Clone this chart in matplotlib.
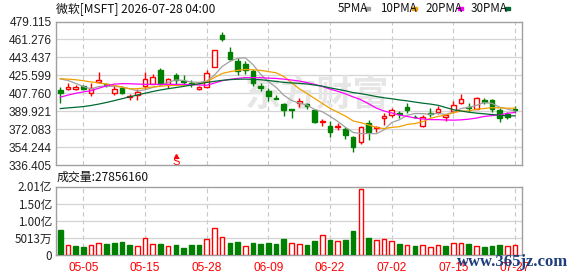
import matplotlib
matplotlib.use('Agg')
import matplotlib.pyplot as plt
import numpy as np

# ---------------- data ----------------
date_ticks = [3, 11, 19, 27, 35, 43, 51, 59]
date_labels = ['05-05', '05-15', '05-28', '06-09', '06-22', '07-02', '07-15', '07-27']

opens = [410.6, 412.3, 411.5, 414.9, 408.4, 419.2, 417.2, 408.4, 412.6, 403.7,
         406.0, 414.9, 417.2, 430.4, 416.6, 425.8, 420.0, 417.8, 412.3, 413.9,
         434.0, 465.9, 448.5, 439.6, 436.9, 429.7, 414.6, 410.0, 403.4, 396.8,
         392.4, 398.1, 396.8, 390.9, 378.7, 375.5, 373.8, 372.1, 363.9, 359.0,
         377.7, 373.1, 382.7, 386.2, 387.9, 394.5, 384.6, 374.8, 388.1, 389.6,
         384.6, 390.2, 398.5, 394.1, 392.5, 400.7, 400.7, 390.9, 386.9, 392.0]
highs = [414.3, 417.5, 416.3, 415.9, 418.3, 428.7, 417.8, 414.9, 414.9, 407.4,
         411.6, 428.7, 426.5, 433.1, 423.2, 428.1, 425.5, 420.5, 414.9, 430.4,
         451.1, 468.6, 454.1, 442.9, 439.6, 431.4, 418.2, 413.3, 405.7, 398.5,
         392.4, 402.7, 398.1, 391.8, 382.0, 380.0, 378.0, 374.4, 365.5, 375.5,
         381.0, 375.5, 388.6, 392.8, 390.2, 398.5, 386.0, 385.9, 392.8, 395.1,
         387.6, 400.1, 406.7, 398.5, 404.0, 402.7, 401.7, 392.8, 389.6, 395.1]
lows = [398.5, 410.6, 410.6, 410.9, 405.0, 417.6, 414.0, 406.4, 407.4, 401.0,
        401.0, 411.6, 416.5, 416.5, 412.6, 417.2, 415.6, 413.9, 411.3, 413.3,
        434.0, 459.3, 441.3, 426.4, 427.4, 414.6, 410.0, 400.1, 402.1, 385.2,
        383.6, 394.1, 392.1, 378.0, 374.8, 364.0, 371.4, 362.2, 349.7, 357.3,
        361.2, 368.8, 376.3, 384.6, 382.7, 388.5, 383.0, 373.8, 383.7, 387.6,
        379.7, 388.6, 397.5, 389.6, 391.8, 397.5, 389.6, 378.7, 381.9, 388.6]
closes = [407.7, 414.3, 413.6, 411.6, 412.6, 420.5, 415.8, 412.3, 408.0, 405.0,
          409.3, 421.5, 423.8, 417.2, 421.5, 420.8, 419.2, 416.5, 414.3, 428.1,
          451.1, 461.7, 441.9, 429.7, 430.4, 417.6, 413.3, 405.0, 402.1, 390.9,
          391.5, 400.4, 395.5, 379.5, 380.0, 368.8, 375.1, 366.1, 354.0, 373.8,
          369.4, 374.4, 385.2, 390.9, 386.9, 391.5, 383.7, 384.6, 387.2, 391.9,
          385.9, 396.1, 401.7, 392.8, 402.7, 399.4, 391.8, 382.7, 383.7, 391.2]

ma5 = [422.0, 420.5, 417.5, 414.5, 412.0, 414.5, 414.8, 414.6, 413.8, 412.3,
       410.1, 411.2, 413.5, 415.4, 418.7, 421.0, 420.5, 419.0, 418.5, 419.8,
       425.8, 434.3, 439.4, 442.5, 443.0, 436.3, 426.6, 419.2, 413.7, 405.8,
       400.6, 398.0, 396.1, 391.6, 389.4, 384.8, 379.8, 373.9, 368.8, 367.6,
       367.7, 367.5, 371.4, 378.7, 381.4, 385.8, 387.6, 387.5, 386.8, 387.8,
       386.7, 389.1, 392.6, 393.7, 395.8, 398.5, 397.7, 393.9, 392.1, 389.8]
ma10 = [422.2, 421.8, 421.2, 420.2, 419.0, 418.0, 416.8, 415.5, 414.0, 412.1,
        412.3, 413.0, 414.0, 414.6, 415.5, 415.5, 415.9, 416.3, 416.9, 419.2,
        423.4, 427.4, 429.2, 430.5, 431.4, 431.1, 430.5, 429.3, 428.1, 424.4,
        418.4, 412.3, 407.6, 402.6, 397.6, 392.7, 388.9, 385.0, 380.2, 378.5,
        376.3, 373.7, 372.6, 373.8, 374.5, 376.7, 377.6, 379.4, 382.8, 384.6,
        386.2, 388.4, 390.0, 390.2, 391.8, 392.6, 393.4, 393.2, 392.9, 392.8]
ma20 = [403.9, 405.9, 407.7, 409.1, 410.3, 412.8, 415.1, 416.8, 417.3, 417.2,
        416.9, 416.6, 416.6, 416.6, 416.6, 416.6, 416.6, 416.3, 416.0, 415.7,
        417.9, 420.2, 421.6, 422.5, 423.4, 423.3, 423.2, 422.8, 422.5, 421.8,
        420.9, 419.9, 418.4, 416.6, 414.5, 411.9, 409.7, 407.2, 404.1, 401.4,
        397.3, 393.0, 390.1, 388.2, 386.0, 384.7, 383.2, 382.2, 381.5, 381.5,
        381.2, 381.0, 381.3, 382.0, 383.1, 384.7, 385.5, 386.3, 387.8, 388.7]
ma30 = [392.5, 393.2, 393.8, 394.5, 395.6, 397.0, 398.6, 400.4, 402.3, 404.2,
        406.0, 407.8, 409.5, 411.0, 412.3, 413.4, 414.6, 415.9, 417.2, 418.5,
        419.6, 420.6, 421.3, 421.7, 421.8, 421.6, 421.2, 420.4, 419.5, 418.6,
        418.0, 417.6, 417.0, 415.9, 414.8, 413.1, 411.7, 410.2, 408.4, 407.4,
        406.0, 404.5, 403.2, 402.3, 401.1, 400.2, 399.0, 397.9, 397.0, 395.8,
        393.6, 391.4, 390.1, 388.9, 388.0, 387.3, 386.6, 385.9, 385.3, 385.3]

# volume in millions of shares
volumes = [72, 29, 27, 24, 29, 35, 33, 36, 39, 30,
           27, 50, 32, 33, 27, 30, 21, 30, 30, 47,
           80, 53, 36, 39, 27, 36, 33, 36, 33, 48,
           35, 33, 30, 42, 59, 45, 42, 45, 69, 192,
           51, 44, 47, 41, 33, 29, 27, 29, 24, 29,
           27, 35, 35, 33, 27, 24, 27, 30, 27, 27.86]
# volume colour: 1 = close above previous close (red), 0 = below (green)
vol_up = [0, 1, 0, 0, 1, 1, 0, 0, 0, 0,
          1, 1, 1, 0, 1, 0, 0, 0, 0, 1,
          1, 1, 0, 0, 1, 0, 0, 0, 0, 0,
          1, 1, 0, 0, 1, 0, 1, 0, 0, 1,
          0, 1, 1, 1, 0, 1, 0, 1, 1, 1,
          0, 1, 1, 0, 1, 0, 0, 0, 1, 1]

price_ticks = [336.405, 354.244, 372.083, 389.921, 407.760, 425.599, 443.437, 461.276, 479.115]
price_labels = ['336.405', '354.244', '372.083', '389.921', '407.760', '425.599', '443.437', '461.276', '479.115']
vol_ticks = [0, 50.13, 100.26, 150.39, 200.52]
vol_labels = ['0', '5013万', '1.00亿', '1.50亿', '2.01亿']

split_bar = 15
title = '微软[MSFT] 2026-07-28 04:00'
vol_title = '成交量:27856160'
ma_names = ['5PMA', '10PMA', '20PMA', '30PMA']

# ---------------- style ----------------
RED = '#ff0000'
GREEN = '#008000'
MA_COLORS = ['#a0a0a0', '#f0a000', '#ff00ff', '#006a32']
FRAME = '#a0a0a0'
GRID = '#d4d4d4'
CJK = ['Noto Sans CJK SC', 'DejaVu Sans']
LAT = ['Liberation Sans', 'DejaVu Sans']

W, H = 578, 276
fig = plt.figure(figsize=(W / 100, H / 100), dpi=100)

def fx(px):
    return px / W

def fy(py):
    return 1 - py / H

ax = fig.add_axes([fx(56), fy(165), fx(522) - fx(56), fy(21.5) - fy(165)])
axv = fig.add_axes([fx(56), fy(255), fx(522) - fx(56), fy(186.5) - fy(255)])

n = len(closes)
x = np.arange(n)
o = np.array(opens); c = np.array(closes); hi = np.array(highs); lo = np.array(lows)
up = c >= o
cols = np.where(up, RED, GREEN)

for a in (ax, axv):
    a.set_xlim(-0.55, 59.9)
    for s in a.spines.values():
        s.set_color(FRAME)
        s.set_linewidth(1.0)
    a.tick_params(length=0, pad=3)
    for t in date_ticks:
        a.axvline(t, color='#c8c8c8', lw=0.8, ls=(0, (4, 3)), zorder=0)

# watermark in price panel
ax.text(0.56, 0.49, '东方财富', transform=ax.transAxes, fontsize=26, family=CJK,
        color='#e6e6e6', ha='center', va='center', fontweight='bold', zorder=0.5)

# price panel
ax.set_ylim(336.405, 479.115)
ax.set_yticks(price_ticks)
ax.set_yticklabels(price_labels, family=LAT, fontsize=8.6, color='#222222')
ax.set_xticks([])
for t in price_ticks[1:-1]:
    ax.axhline(t, color=GRID, lw=0.9, zorder=0)

ax.vlines(x, lo, hi, colors=cols, lw=1.0, zorder=3)
body_lo = np.minimum(o, c)
body_h = np.maximum(np.abs(c - o), 0.7)
ax.bar(x, body_h, bottom=body_lo, width=0.6,
       color=np.where(up, 'white', GREEN), edgecolor=cols, linewidth=1.0, zorder=4)

for vals, col in zip([ma5, ma10, ma20, ma30], MA_COLORS):
    ax.plot(x, vals, color=col, lw=0.9, zorder=5)

# split marker
ax.plot(split_bar, 345.0, marker='^', color=RED, markersize=2.8, zorder=6)
ax.text(split_bar, 339.6, 'S', color=RED, fontsize=8, family=LAT,
        ha='center', va='center', zorder=6)

# volume panel
v = np.array(volumes)
vu = np.array(vol_up, dtype=bool)
vcols = np.where(vu, RED, GREEN)
axv.set_ylim(0, 200.52)
axv.set_yticks(vol_ticks)
axv.set_yticklabels(vol_labels, family=CJK, fontsize=8.4, color='#222222')
for t in vol_ticks[1:-1]:
    axv.axhline(t, color=GRID, lw=0.9, zorder=0)
axv.bar(x, v, width=0.6, color=np.where(vu, 'white', GREEN),
        edgecolor=vcols, linewidth=1.0, zorder=3)
axv.set_xticks(date_ticks)
axv.set_xticklabels(date_labels, family=LAT, fontsize=8.6, color=RED)
axv.tick_params(axis='x', pad=5)

# texts
fig.text(fx(56), fy(8.5), title, family=CJK, fontsize=8.6, color='#111111',
         ha='left', va='center')
fig.text(fx(57), fy(177.5), vol_title, family=CJK, fontsize=8.6, color='#111111',
         ha='left', va='center')

leg_x = [338, 380, 425, 471]
sq_x = [365, 412, 458, 505]
for name, lx, sx, col in zip(ma_names, leg_x, sq_x, MA_COLORS):
    fig.text(fx(lx), fy(8.5), name, family=CJK, fontsize=8.4, color='#111111',
             ha='left', va='center')
    fig.patches.append(plt.Rectangle((fx(sx), fy(10)), fx(5), fy(7) - fy(10),
                                     transform=fig.transFigure, color=col))

fig.text(fx(513), fy(262), 'www.365jz.com', family=['Liberation Serif', 'DejaVu Serif'],
         fontsize=12, color='#1d3d7d', ha='center', va='center', fontweight='bold')

fig.savefig('out.png', dpi=100)
